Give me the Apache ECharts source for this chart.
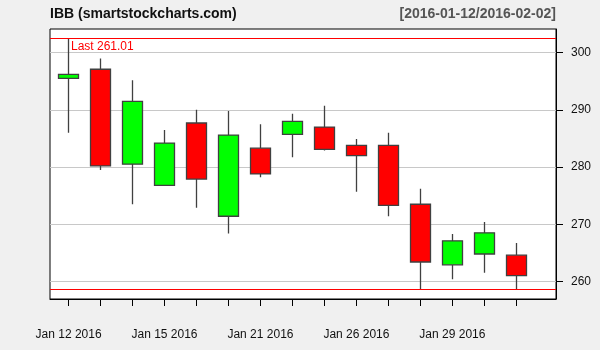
<!DOCTYPE html>
<html>
<head>
<meta charset="utf-8">
<script src="https://cdn.jsdelivr.net/npm/echarts@6/dist/echarts.min.js"></script>
<style>
html,body{margin:0;padding:0;background:#f0f0f0;}
#c{width:600px;height:350px;}
</style>
</head>
<body>
<div id="c"></div>
<script>
var dates = ['Jan 12 2016','Jan 13 2016','Jan 14 2016','Jan 15 2016','Jan 19 2016','Jan 20 2016','Jan 21 2016','Jan 22 2016','Jan 25 2016','Jan 26 2016','Jan 27 2016','Jan 28 2016','Jan 29 2016','Feb 01 2016','Feb 02 2016'];
var openV  = [295.5, 297.1, 280.5, 276.8, 287.7, 271.4, 283.3, 285.7, 287.0, 283.8, 283.8, 273.5, 262.9, 264.8, 264.6];
var closeV = [296.2, 280.2, 291.5, 284.2, 277.9, 285.6, 278.8, 288.0, 283.1, 282.0, 273.3, 263.4, 267.1, 268.5, 261.01];
var lowV   = [286.0, 279.5, 273.5, 276.8, 272.9, 268.4, 278.2, 281.7, 282.9, 275.7, 271.4, 258.7, 260.4, 261.5, 258.7];
var highV  = [302.5, 299.0, 295.2, 286.5, 290.0, 289.8, 287.5, 289.3, 290.7, 284.9, 286.0, 276.2, 268.3, 270.4, 266.7];
var yTicks = [260, 270, 280, 290, 300];
var xLabelIdx = [0, 3, 6, 9, 12];
var titleText = 'IBB (smartstockcharts.com)';
var rangeText = '[2016-01-12/2016-02-02]';

var idx = dates.map(function(d, i){ return i; });
var data = idx.map(function(i){ return [i, openV[i], closeV[i], lowV[i], highV[i]]; });
var lastClose = closeV[closeV.length - 1];
var maxHigh = Math.max.apply(null, highV);
var minLow = Math.min.apply(null, lowV);

var chart = echarts.init(document.getElementById('c'));
chart.setOption({
  animation: false,
  backgroundColor: '#f0f0f0',
  textStyle: { fontFamily: 'Liberation Sans, Arial, sans-serif' },
  title: [
    { text: titleText, left: 50, top: 7, padding: 0,
      textStyle: { fontSize: 14, fontWeight: 'bold', color: '#111', fontFamily: 'Liberation Sans, Arial, sans-serif' } },
    { text: rangeText, right: 44, top: 7, padding: 0,
      textStyle: { fontSize: 14, fontWeight: 'bold', color: '#555', fontFamily: 'Liberation Sans, Arial, sans-serif' } }
  ],
  grid: { left: 50, right: 44, top: 29, bottom: 51, show: true, borderColor: '#000', borderWidth: 1, backgroundColor: '#fff' },
  xAxis: {
    type: 'value', min: -0.58, max: 15.24,
    splitLine: { show: false },
    axisLine: { show: true, onZero: false, lineStyle: { color: '#000', width: 1 } },
    axisTick: { show: true, length: 7, customValues: idx, lineStyle: { color: '#000' } },
    axisLabel: { customValues: xLabelIdx, margin: 30, fontSize: 12, color: '#111',
      formatter: function(v){ return dates[Math.round(v)] || ''; } }
  },
  yAxis: {
    type: 'value', position: 'right', min: 256.93, max: 304.14, scale: true,
    axisLine: { show: true, onZero: false, lineStyle: { color: '#000', width: 1 } },
    axisTick: { show: true, length: 7, customValues: yTicks, lineStyle: { color: '#000' } },
    axisLabel: { customValues: yTicks, margin: 15, fontSize: 12, color: '#111' },
    splitLine: { show: true, lineStyle: { color: '#c8c8c8', width: 1 } }
  },
  series: [{
    type: 'candlestick',
    data: data,
    encode: { x: 0, y: [1, 2, 3, 4] },
    barWidth: 21,
    itemStyle: { color: '#00ff00', color0: '#ff0000', borderColor: '#404040', borderColor0: '#404040', borderWidth: 1.3 },
    markLine: {
      silent: true, symbol: 'none',
      lineStyle: { color: '#ff0000', width: 1, type: 'solid' },
      data: [
        { yAxis: maxHigh, label: { show: true, position: 'insideStartBottom', distance: [21, 2], formatter: 'Last ' + lastClose.toFixed(2), color: '#ff0000', fontSize: 12 } },
        { yAxis: minLow, label: { show: false } }
      ]
    }
  }]
});
</script>
</body>
</html>
